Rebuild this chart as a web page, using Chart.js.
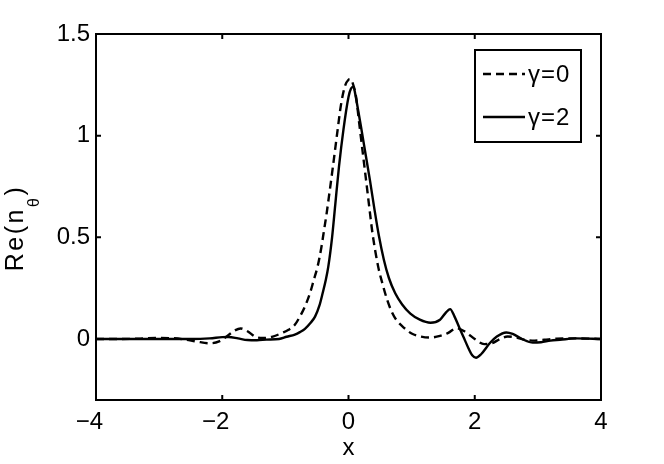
<!DOCTYPE html>
<html>
<head>
<meta charset="utf-8">
<script src="https://cdn.jsdelivr.net/npm/chart.js@4.4.0/dist/chart.umd.min.js"></script>
<style>
  html, body { margin: 0; padding: 0; background: #fff; }
</style>
</head>
<body>
<canvas id="myChart" width="664" height="464"></canvas>
<script>
  // values
  const xTicks = [-4, -2, 0, 2, 4];
  const yTicks = [0, 0.5, 1, 1.5];
  const seriesLabels = ["γ=0", "γ=2"];

  const xGamma0 = [-4, -3.6, -3.3, -3.0, -2.8, -2.6, -2.4, -2.2, -2.05, -1.9, -1.8, -1.71, -1.6, -1.47, -1.35, -1.2, -1.05, -0.95, -0.85, -0.77, -0.69, -0.61, -0.55, -0.49, -0.43, -0.39, -0.35, -0.31, -0.25, -0.18, -0.12, -0.06, 0.0, 0.03, 0.07, 0.12, 0.17, 0.24, 0.30, 0.34, 0.38, 0.47, 0.54, 0.61, 0.69, 0.76, 0.88, 1.0, 1.15, 1.29, 1.45, 1.58, 1.71, 1.85, 2.0, 2.15, 2.28, 2.4, 2.52, 2.65, 2.8, 2.95, 3.1, 3.3, 3.6, 4];
  const yGamma0 = [0, 0, 0.002, 0.005, 0.004, -0.002, -0.013, -0.021, -0.012, 0.02, 0.042, 0.052, 0.038, 0.01, 0.005, 0.012, 0.03, 0.045, 0.07, 0.11, 0.16, 0.225, 0.29, 0.356, 0.45, 0.53, 0.61, 0.70, 0.84, 1.01, 1.15, 1.24, 1.275, 1.278, 1.255, 1.19, 1.06, 0.88, 0.725, 0.62, 0.52, 0.356, 0.27, 0.195, 0.13, 0.093, 0.055, 0.027, 0.012, 0.007, 0.015, 0.03, 0.053, 0.035, 0.0, -0.025, -0.02, 0.0, 0.012, 0.008, -0.004, -0.008, -0.004, 0.002, 0.003, 0];

  const xGamma2 = [-4, -3.0, -2.5, -2.2, -2.0, -1.9, -1.75, -1.6, -1.45, -1.3, -1.1, -0.98, -0.85, -0.77, -0.69, -0.6, -0.53, -0.46, -0.41, -0.36, -0.32, -0.26, -0.21, -0.15, -0.08, 0.0, 0.04, 0.08, 0.11, 0.15, 0.2, 0.27, 0.34, 0.41, 0.48, 0.56, 0.64, 0.74, 0.85, 0.98, 1.13, 1.3, 1.45, 1.53, 1.61, 1.68, 1.75, 1.82, 1.9, 1.96, 2.02, 2.1, 2.24, 2.35, 2.5, 2.6, 2.75, 2.92, 3.05, 3.2, 3.35, 3.6, 4];
  const yGamma2 = [0, 0, 0, 0.003, 0.009, 0.01, 0.003, -0.005, -0.006, -0.003, 0, 0.011, 0.022, 0.034, 0.05, 0.08, 0.11, 0.165, 0.225, 0.29, 0.356, 0.50, 0.66, 0.85, 1.03, 1.19, 1.232, 1.24, 1.2, 1.13, 1.04, 0.91, 0.78, 0.64, 0.51, 0.39, 0.30, 0.225, 0.17, 0.125, 0.095, 0.08, 0.095, 0.125, 0.147, 0.11, 0.06, 0.011, -0.045, -0.08, -0.092, -0.075, -0.02, 0.012, 0.032, 0.025, 0.0, -0.018, -0.016, -0.008, -0.004, 0.003, 0];

  const FONT = "'Liberation Sans', Arial, sans-serif";

  function toPoints(xs, ys) {
    return xs.map((x, i) => ({ x: x, y: ys[i] }));
  }

  function fmt(v) {
    // minus hangs left of the digit, like the original
    return v < 0 ? "\u2212" + Math.abs(v) + "\u2007" : String(v);
  }

  // box round the plot with inward ticks on all four sides
  const framePlugin = {
    id: "frame",
    afterDatasetsDraw(chart) {
      const { ctx, chartArea: a, scales } = chart;
      const len = 5;
      ctx.save();
      ctx.strokeStyle = "#000";
      ctx.lineWidth = 2;
      ctx.strokeRect(a.left, a.top, a.right - a.left, a.bottom - a.top);
      ctx.beginPath();
      xTicks.forEach((v) => {
        const px = scales.x.getPixelForValue(v);
        ctx.moveTo(px, a.bottom); ctx.lineTo(px, a.bottom - len);
        ctx.moveTo(px, a.top); ctx.lineTo(px, a.top + len);
      });
      yTicks.forEach((v) => {
        const py = scales.y.getPixelForValue(v);
        ctx.moveTo(a.left, py); ctx.lineTo(a.left + len, py);
        ctx.moveTo(a.right, py); ctx.lineTo(a.right - len, py);
      });
      ctx.stroke();
      ctx.restore();
    },
  };

  // legend box in the upper right corner
  const legendPlugin = {
    id: "boxLegend",
    afterDraw(chart) {
      const { ctx, chartArea: a } = chart;
      const w = 106, h = 92;
      const bx = a.right - 20 - w, by = a.top + 16;
      ctx.save();
      ctx.fillStyle = "#fff";
      ctx.fillRect(bx, by, w, h);
      ctx.strokeStyle = "#000";
      ctx.lineWidth = 2;
      ctx.strokeRect(bx, by, w, h);
      chart.data.datasets.forEach((ds, i) => {
        const ry = by + 24 + i * 43;
        ctx.beginPath();
        ctx.setLineDash(ds.borderDash || []);
        ctx.lineWidth = ds.borderWidth;
        ctx.moveTo(bx + 8, ry);
        ctx.lineTo(bx + 50, ry);
        ctx.stroke();
        ctx.setLineDash([]);
        ctx.fillStyle = "#000";
        ctx.font = "24px " + FONT;
        if ("letterSpacing" in ctx) ctx.letterSpacing = "1px";
        ctx.textBaseline = "middle";
        ctx.textAlign = "left";
        ctx.fillText(ds.label, bx + 53, ry + 1);
      });
      ctx.restore();
    },
  };

  // y axis title with a subscript
  const yTitlePlugin = {
    id: "yTitle",
    afterDraw(chart) {
      const { ctx, chartArea: a } = chart;
      ctx.save();
      ctx.fillStyle = "#000";
      ctx.textBaseline = "alphabetic";
      ctx.textAlign = "left";
      if ("letterSpacing" in ctx) ctx.letterSpacing = "2.5px";
      ctx.font = "25px " + FONT;
      const w1 = ctx.measureText("Re(n").width;
      ctx.font = "16px " + FONT;
      const w2 = ctx.measureText("θ").width;
      ctx.font = "25px " + FONT;
      const w3 = ctx.measureText(")").width;
      const total = w1 + w2 + w3;
      const cy = (a.top + a.bottom) / 2 + 11;
      ctx.translate(23, cy + total / 2);
      ctx.rotate(-Math.PI / 2);
      ctx.fillText("Re(n", 0, 0);
      ctx.font = "16px " + FONT;
      ctx.fillText("θ", w1, 16);
      ctx.font = "25px " + FONT;
      ctx.fillText(")", w1 + w2, 0);
      ctx.restore();
    },
  };

  const ctx = document.getElementById("myChart").getContext("2d");
  const myChart = new Chart(ctx, {
    type: "scatter",
    data: {
      datasets: [
        {
          label: seriesLabels[0],
          data: toPoints(xGamma0, yGamma0),
          showLine: true,
          borderColor: "#000",
          borderWidth: 2.4,
          borderDash: [8, 5],
          pointRadius: 0,
          cubicInterpolationMode: "monotone",
        },
        {
          label: seriesLabels[1],
          data: toPoints(xGamma2, yGamma2),
          showLine: true,
          borderColor: "#000",
          borderWidth: 2.4,
          pointRadius: 0,
          cubicInterpolationMode: "monotone",
        },
      ],
    },
    options: {
      responsive: false,
      animation: false,
      layout: { padding: { top: 34, right: 63, left: 0, bottom: 0 } },
      plugins: {
        legend: { display: false },
        tooltip: { enabled: false },
      },
      scales: {
        x: {
          type: "linear",
          min: -4,
          max: 4,
          afterBuildTicks: (s) => { s.ticks = xTicks.map((v) => ({ value: v })); },
          afterFit: (s) => { s.height = 64; },
          grid: { display: false, drawTicks: false },
          border: { display: false },
          ticks: {
            padding: 8,
            color: "#000",
            font: { family: FONT, size: 24 },
            maxRotation: 0,
            callback: (v) => fmt(v),
          },
          title: {
            display: true,
            text: "x",
            color: "#000",
            font: { family: FONT, size: 24 },
            padding: { top: 0, bottom: 1 },
          },
        },
        y: {
          type: "linear",
          min: -0.3,
          max: 1.5,
          afterBuildTicks: (s) => { s.ticks = yTicks.map((v) => ({ value: v })); },
          afterFit: (s) => { s.width = 96; },
          grid: { display: false, drawTicks: false },
          border: { display: false },
          ticks: {
            padding: 6,
            color: "#000",
            font: { family: FONT, size: 24 },
            callback: (v) => String(v),
          },
        },
      },
    },
    plugins: [framePlugin, legendPlugin, yTitlePlugin],
  });
</script>
</body>
</html>
